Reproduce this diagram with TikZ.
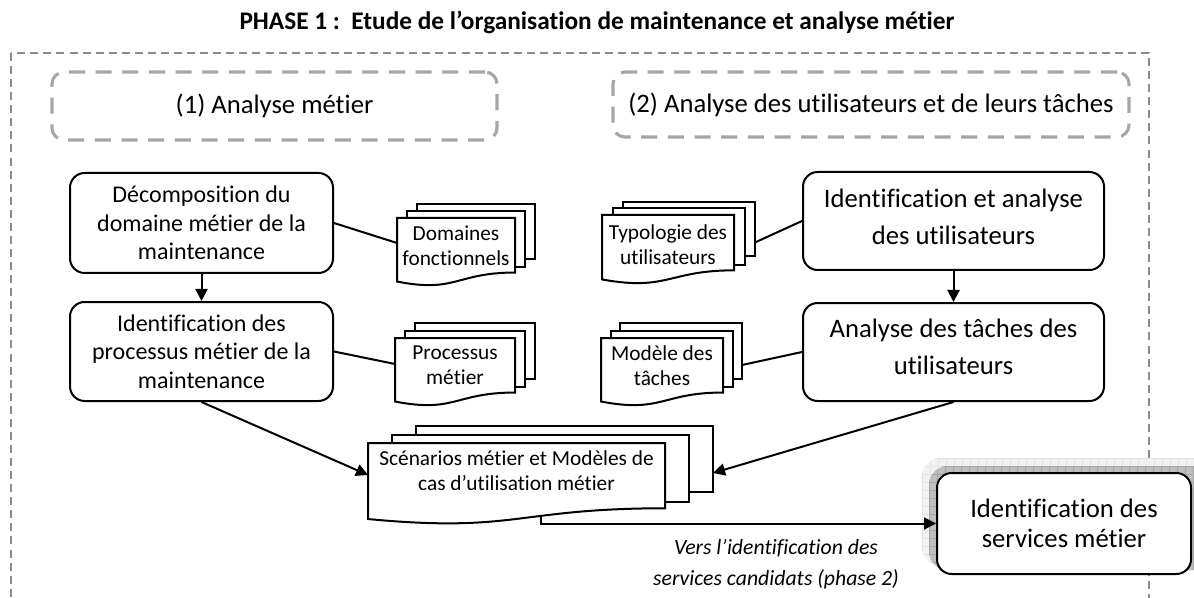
\documentclass[tikz,border=0pt]{standalone}
\usepackage{fontspec}
\setmainfont{Carlito}[Ligatures={NoCommon}]
\usetikzlibrary{arrows.meta}
\definecolor{grp}{HTML}{A6A6A6}
\definecolor{outerc}{HTML}{8C8C8C}
\newcommand\mdoc[6]{%
  \filldraw[docline] (#1+2*#5,#2-2*#6) rectangle (#1+#3+2*#5,#2+0.6*#4);
  \filldraw[docline] (#1+#5,#2-#6) rectangle (#1+#3+#5,#2+0.72*#4);
  \filldraw[docline] (#1,#2) -- (#1+#3,#2) -- (#1+#3,#2+0.802*#4)
     .. controls (#1+0.5*#3,#2+0.802*#4) and (#1+0.5*#3,#2+1.107*#4) .. (#1,#2+0.934*#4) -- cycle;
}
\tikzset{
  proc/.style={draw, line width=1.5pt, rounded corners=11pt, align=center, inner sep=2pt, fill=white},
  grpbox/.style={draw=grp, line width=2.3pt, dash pattern=on 12pt off 8pt, rounded corners=9pt, align=center, inner sep=0pt,
                 font=\fontsize{20}{24}\selectfont},
  conn/.style={line width=1.5pt},
  arr/.style={conn, -{Triangle[length=9pt,width=9pt]}},
  docline/.style={draw=black, fill=white, line width=1.5pt},
  doctext/.style={align=center, font=\fontsize{16}{18.75}\selectfont, inner sep=0pt},
  fontA/.style={font=\fontsize{18}{21.4}\selectfont},
  fontC/.style={font=\fontsize{20}{27.75}\selectfont},
}
\begin{document}
\begin{tikzpicture}[x=0.75pt,y=-0.75pt]
\useasboundingbox (0,0) rectangle (1194,598);
\clip (0,0) rectangle (1194,598);
\fill[white] (0,0) rectangle (1194,598);

% title
\node[font=\bfseries\fontsize{19}{23}\selectfont, anchor=base, inner sep=0pt] (title) at (597,30)
  {PHASE 1 :\ \ Etude de l’organisation de maintenance et analyse métier};

% outer dashed frame
\draw[outerc, line width=0.9pt, dash pattern=on 6pt off 3.8pt] (11,53) rectangle (1149,660);

% group boxes
\node[grpbox, minimum width=445*0.75pt, minimum height=68*0.75pt] (g1) at (274.5,106) {(1) Analyse métier};
\node[grpbox, minimum width=516*0.75pt, minimum height=65*0.75pt] (g2) at (871,104.5) {(2) Analyse des utilisateurs et de leurs tâches};

% process nodes
\node[proc, fontA, minimum width=263*0.75pt, minimum height=100*0.75pt] (A) at (201.5,223)
  {Décomposition du\\domaine métier de la\\maintenance};
\node[proc, fontA, minimum width=263*0.75pt, minimum height=99*0.75pt] (B) at (201.5,351.5)
  {Identification des\\processus métier de la\\maintenance};
\node[proc, minimum width=301*0.75pt, minimum height=98*0.75pt] (C) at (953.5,221) {};
\node[fontC, align=center, inner sep=0pt] (Ct) at (953.5,216.5) {Identification et analyse\\des utilisateurs};
\node[proc, minimum width=301*0.75pt, minimum height=98*0.75pt] (D) at (953.5,352) {};
\node[fontC, align=center, inner sep=0pt] (Dt) at (953.5,347) {Analyse des tâches des\\utilisateurs};

% documents
\mdoc{397}{218}{118}{68}{10}{7}
\node[doctext] (dom) at (456,246) {Domaines\\fonctionnels};
\mdoc{395}{338}{120}{68}{10}{7.5}
\node[doctext] (pro) at (455,365) {Processus\\métier};
\mdoc{602}{215}{132}{69}{10.5}{6.5}
\node[doctext] (typ) at (668,244.5) {Typologie des\\utilisateurs};
\mdoc{601}{338}{122}{68}{9.5}{7.5}
\node[doctext] (mod) at (662,365.5) {Modèle des\\tâches};
\mdoc{368}{443}{297}{81.4}{24}{8.5}
\node[doctext] (scen) at (516.5,470.5) {Scénarios métier et Modèles de\\cas d’utilisation métier};

% connector end points on documents
\coordinate (domL) at (397,243);
\coordinate (proL) at (395,364);
\coordinate (typR) at (756,242);
\coordinate (modR) at (742,365);
\coordinate (scenL) at (368,475);
\coordinate (scenR) at (713,473);
\coordinate (scenB) at (541,517);

% connectors
\draw[arr] (A.south) -- (B.north);
\draw[arr] (C.south) -- (D.north);
\draw[conn] (A.east) -- (domL);
\draw[conn] (B.east) -- (proL);
\draw[conn] (C.west) -- (typR);
\draw[conn] (D.west) -- (modR);
\draw[arr] (B.south) -- (scenL);
\draw[arr] (D.south) -- (scenR);

% services node with shadow
\begin{scope}
  \clip[rounded corners=14pt] (922,458) rectangle (1215,566);
  \fill[gray!10] (922,458) rectangle (1215,566);
  \foreach \i in {0,...,37} \draw[gray!22, line width=0.4pt] (922+8*\i,458) -- (922+8*\i,566);
  \foreach \j in {0,...,14} \draw[gray!22, line width=0.4pt] (922,458+8*\j) -- (1215,458+8*\j);
\end{scope}
\begin{scope}
  \clip[rounded corners=14pt] (929,466) rectangle (1215,570);
  \fill[gray!50] (929,466) rectangle (1215,570);
  \foreach \i in {0,...,37} \draw[gray!70, line width=0.4pt] (929+8*\i,466) -- (929+8*\i,570);
  \foreach \j in {0,...,14} \draw[gray!70, line width=0.4pt] (929,466+8*\j) -- (1215,466+8*\j);
\end{scope}
\node[proc, font=\fontsize{20}{22.5}\selectfont, minimum width=254*0.75pt, minimum height=101*0.75pt] (S) at (1064,523.5)
  {Identification des\\services métier};

\draw[arr] (scenB) |- (S.west);

\node[align=center, inner sep=0pt, font=\itshape\fontsize{16.3}{23.25}\selectfont] (lab) at (776,564.5)
  {Vers l’identification des\\services candidats (phase 2)};
\end{tikzpicture}
\end{document}
